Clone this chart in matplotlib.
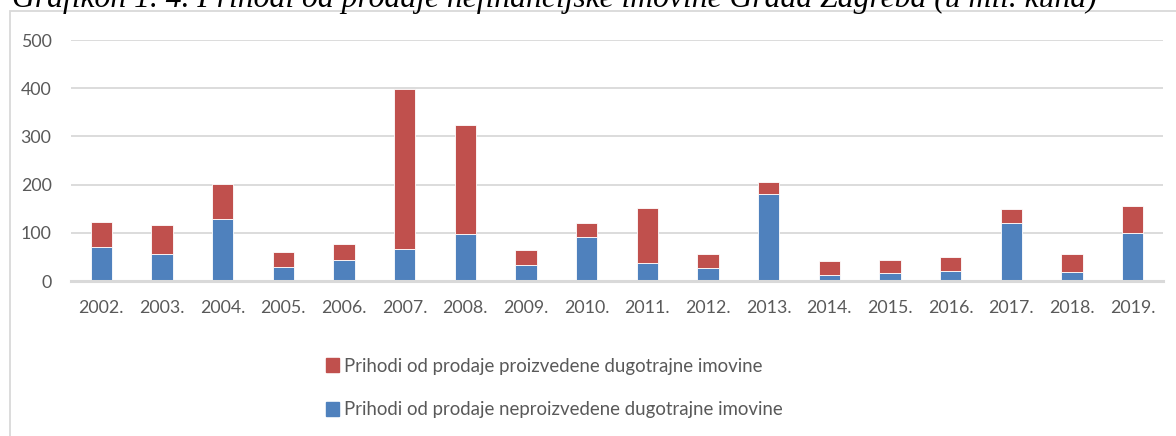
import numpy as np
import matplotlib
matplotlib.use('Agg')
import matplotlib.pyplot as plt
from matplotlib.patches import Rectangle, Patch

# ---- data (mil. kuna) ----
years = ['2002.', '2003.', '2004.', '2005.', '2006.', '2007.', '2008.', '2009.', '2010.',
         '2011.', '2012.', '2013.', '2014.', '2015.', '2016.', '2017.', '2018.', '2019.']
neproizvedena = [71, 55, 128, 30, 43, 66, 97, 33, 91, 37, 26, 180, 13, 16, 20, 120, 19, 99]
proizvedena = [52, 62, 73, 31, 33, 332, 227, 31, 30, 115, 31, 26, 28, 28, 29, 30, 37, 57]

lbl_red = 'Prihodi od prodaje proizvedene dugotrajne imovine'
lbl_blue = 'Prihodi od prodaje neproizvedene dugotrajne imovine'
title = 'Grafikon 1. 4. Prihodi od prodaje nefinancijske imovine Grada Zagreba (u mil. kuna)'

BLUE = '#4F81BD'
RED = '#C0504D'
GRID = '#D9D9D9'
TXT = '#595959'

plt.rcParams['font.family'] = ['Lato', 'DejaVu Sans']

W, H = 1176, 436
fig = plt.figure(figsize=(W / 100, H / 100), dpi=100)

# okvir grafikona (izlazi van slike desno i dolje)
fig.patches.append(Rectangle((10 / W, -0.1), 1.2, (H - 11) / H + 0.1,
                             transform=fig.transFigure, fill=False,
                             edgecolor=GRID, linewidth=1.3))

# naslov je u originalu odrezan na vrhu
fig.text(12 / W, (H - 7) / H, title, family='Liberation Serif', style='italic',
         fontsize=22.8, color='black', va='baseline', ha='left')

ax = fig.add_axes([71 / W, (H - 281) / H, (1163 - 71) / W, 241 / H])
x = np.arange(len(years))
bw = 0.35
ax.bar(x, neproizvedena, bw, color=BLUE, edgecolor='white', linewidth=0.6, zorder=3)
ax.bar(x, proizvedena, bw, bottom=neproizvedena, color=RED, edgecolor='white',
       linewidth=0.6, zorder=3)

ax.set_xlim(-0.5, len(years) - 0.5)
ax.set_ylim(0, 500)
ax.set_yticks(range(0, 501, 100))
ax.set_xticks(x)
ax.set_xticklabels(years)
ax.tick_params(length=0, labelsize=12.8, colors=TXT)
ax.tick_params(axis='x', pad=14)
ax.tick_params(axis='y', pad=14)
ax.grid(axis='y', color=GRID, linewidth=1.3, zorder=0)
for s in ['top', 'right', 'left']:
    ax.spines[s].set_visible(False)
ax.spines['bottom'].set_color(GRID)
ax.spines['bottom'].set_linewidth(2.2)
ax.spines['bottom'].set_zorder(4)

handles = [Patch(color=RED), Patch(color=BLUE)]
fig.legend(handles, [lbl_red, lbl_blue], loc='center left',
           bbox_to_anchor=(309 / W, (H - 388) / H), frameon=False,
           fontsize=13.4, labelcolor=TXT, handlelength=0.72, handleheight=0.72,
           handletextpad=0.25, labelspacing=1.45)

fig.savefig('out.png', dpi=100, facecolor='white')
